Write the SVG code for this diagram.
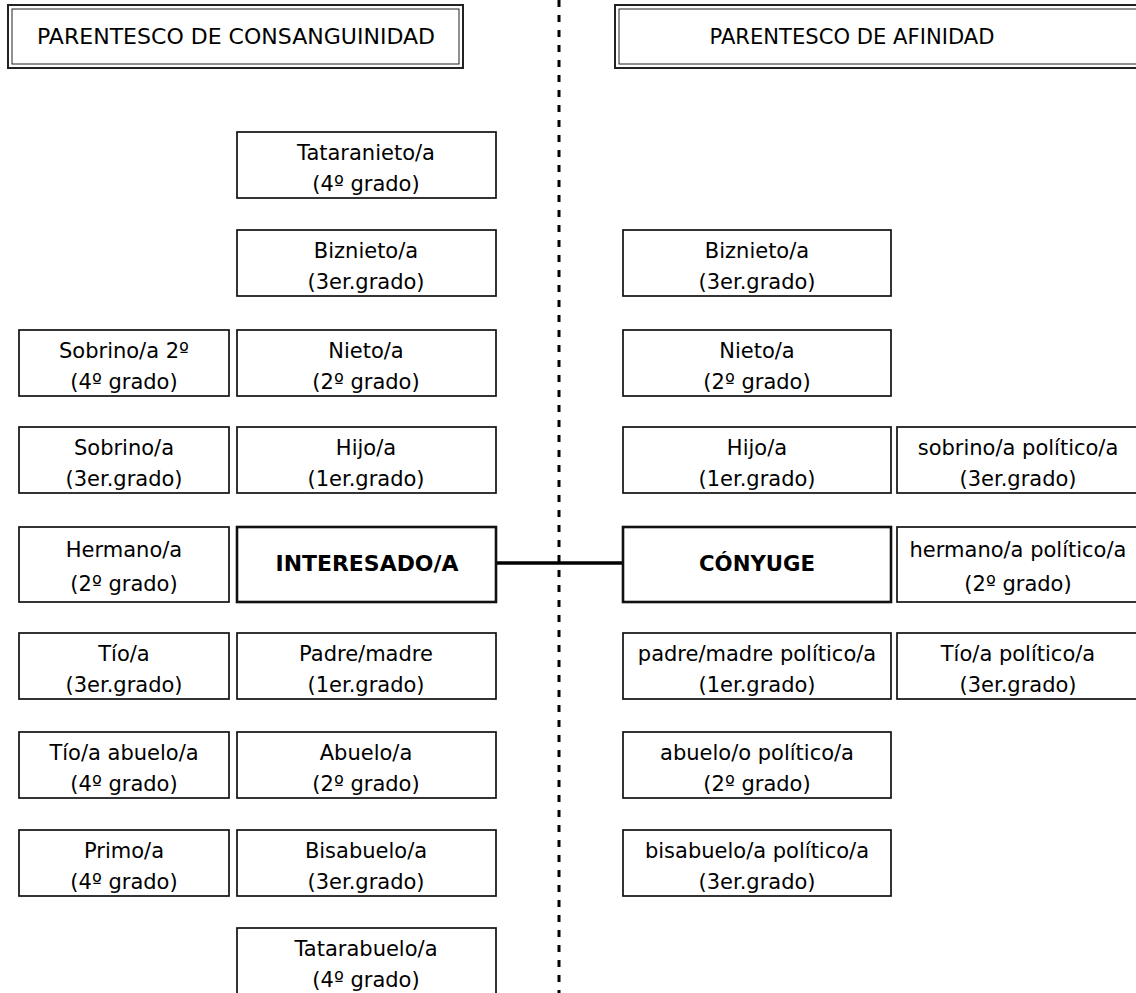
<svg xmlns="http://www.w3.org/2000/svg" width="1136" height="993" viewBox="0 0 1136 993">
<style>
.b{fill:#fff;stroke:#111;stroke-width:1.7}
.c{fill:#fff;stroke:#111;stroke-width:2.6}
.ho{fill:#fff;stroke:#222;stroke-width:2}
.hi{fill:none;stroke:#222;stroke-width:1}
text{font-family:"DejaVu Sans","Liberation Sans",sans-serif;font-size:21px;fill:#000;text-anchor:middle}
.bold{font-weight:bold}
.hd{font-size:22px}
</style>
<rect width="1136" height="993" fill="#fff"/>
<g id="connectors">
<line x1="559" y1="0" x2="559" y2="993" stroke="#000" stroke-width="3" stroke-dasharray="7 8"/>
<line x1="496" y1="563" x2="623" y2="563" stroke="#000" stroke-width="3.5"/>
</g>
<g id="hdr-consanguinidad">
<rect class="ho" x="8" y="5" width="455" height="63"/>
<rect class="hi" x="12" y="9" width="447" height="55"/>
<text class="hd" x="236" y="44" textLength="398" lengthAdjust="spacingAndGlyphs">PARENTESCO DE CONSANGUINIDAD</text>
</g>
<g id="hdr-afinidad">
<rect class="ho" x="615" y="5" width="540" height="63"/>
<rect class="hi" x="619" y="9" width="532" height="55"/>
<text class="hd" x="852" y="44" textLength="285" lengthAdjust="spacingAndGlyphs">PARENTESCO DE AFINIDAD</text>
</g>
<!-- Column A -->
<g id="sobrino2"><rect class="b" x="19" y="330" width="210" height="66"/><text x="124" y="358">Sobrino/a 2º</text><text x="124" y="389">(4º grado)</text></g>
<g id="sobrino"><rect class="b" x="19" y="427" width="210" height="66"/><text x="124" y="455">Sobrino/a</text><text x="124" y="486">(3er.grado)</text></g>
<g id="hermano"><rect class="b" x="19" y="527" width="210" height="75"/><text x="124" y="557">Hermano/a</text><text x="124" y="591">(2º grado)</text></g>
<g id="tio"><rect class="b" x="19" y="633" width="210" height="66"/><text x="124" y="661">Tío/a</text><text x="124" y="692">(3er.grado)</text></g>
<g id="tioabuelo"><rect class="b" x="19" y="732" width="210" height="66"/><text x="124" y="760">Tío/a abuelo/a</text><text x="124" y="791">(4º grado)</text></g>
<g id="primo"><rect class="b" x="19" y="830" width="210" height="66"/><text x="124" y="858">Primo/a</text><text x="124" y="889">(4º grado)</text></g>
<!-- Column B -->
<g id="tataranieto"><rect class="b" x="237" y="132" width="259" height="66"/><text x="366" y="160">Tataranieto/a</text><text x="366" y="191">(4º grado)</text></g>
<g id="biznieto"><rect class="b" x="237" y="230" width="259" height="66"/><text x="366" y="258">Biznieto/a</text><text x="366" y="289">(3er.grado)</text></g>
<g id="nieto"><rect class="b" x="237" y="330" width="259" height="66"/><text x="366" y="358">Nieto/a</text><text x="366" y="389">(2º grado)</text></g>
<g id="hijo"><rect class="b" x="237" y="427" width="259" height="66"/><text x="366" y="455">Hijo/a</text><text x="366" y="486">(1er.grado)</text></g>
<g id="interesado"><rect class="c" x="237" y="527" width="259" height="75"/><text class="bold" x="367" y="571" textLength="183" lengthAdjust="spacingAndGlyphs">INTERESADO/A</text></g>
<g id="padre"><rect class="b" x="237" y="633" width="259" height="66"/><text x="366" y="661">Padre/madre</text><text x="366" y="692">(1er.grado)</text></g>
<g id="abuelo"><rect class="b" x="237" y="732" width="259" height="66"/><text x="366" y="760">Abuelo/a</text><text x="366" y="791">(2º grado)</text></g>
<g id="bisabuelo"><rect class="b" x="237" y="830" width="259" height="66"/><text x="366" y="858">Bisabuelo/a</text><text x="366" y="889">(3er.grado)</text></g>
<g id="tatarabuelo"><rect class="b" x="237" y="928" width="259" height="70"/><text x="366" y="956">Tatarabuelo/a</text><text x="366" y="987">(4º grado)</text></g>
<!-- Column C -->
<g id="biznieto-af"><rect class="b" x="623" y="230" width="268" height="66"/><text x="757" y="258">Biznieto/a</text><text x="757" y="289">(3er.grado)</text></g>
<g id="nieto-af"><rect class="b" x="623" y="330" width="268" height="66"/><text x="757" y="358">Nieto/a</text><text x="757" y="389">(2º grado)</text></g>
<g id="hijo-af"><rect class="b" x="623" y="427" width="268" height="66"/><text x="757" y="455">Hijo/a</text><text x="757" y="486">(1er.grado)</text></g>
<g id="conyuge"><rect class="c" x="623" y="527" width="268" height="75"/><text class="bold" x="757" y="571" textLength="116" lengthAdjust="spacingAndGlyphs">CÓNYUGE</text></g>
<g id="padre-af"><rect class="b" x="623" y="633" width="268" height="66"/><text x="757" y="661">padre/madre político/a</text><text x="757" y="692">(1er.grado)</text></g>
<g id="abuelo-af"><rect class="b" x="623" y="732" width="268" height="66"/><text x="757" y="760">abuelo/o político/a</text><text x="757" y="791">(2º grado)</text></g>
<g id="bisabuelo-af"><rect class="b" x="623" y="830" width="268" height="66"/><text x="757" y="858">bisabuelo/a político/a</text><text x="757" y="889">(3er.grado)</text></g>
<!-- Column D -->
<g id="sobrino-af"><rect class="b" x="897" y="427" width="243" height="66"/><text x="1018" y="455">sobrino/a político/a</text><text x="1018" y="486">(3er.grado)</text></g>
<g id="hermano-af"><rect class="b" x="897" y="527" width="243" height="75"/><text x="1018" y="557">hermano/a político/a</text><text x="1018" y="591">(2º grado)</text></g>
<g id="tio-af"><rect class="b" x="897" y="633" width="243" height="66"/><text x="1018" y="661">Tío/a político/a</text><text x="1018" y="692">(3er.grado)</text></g>
</svg>
